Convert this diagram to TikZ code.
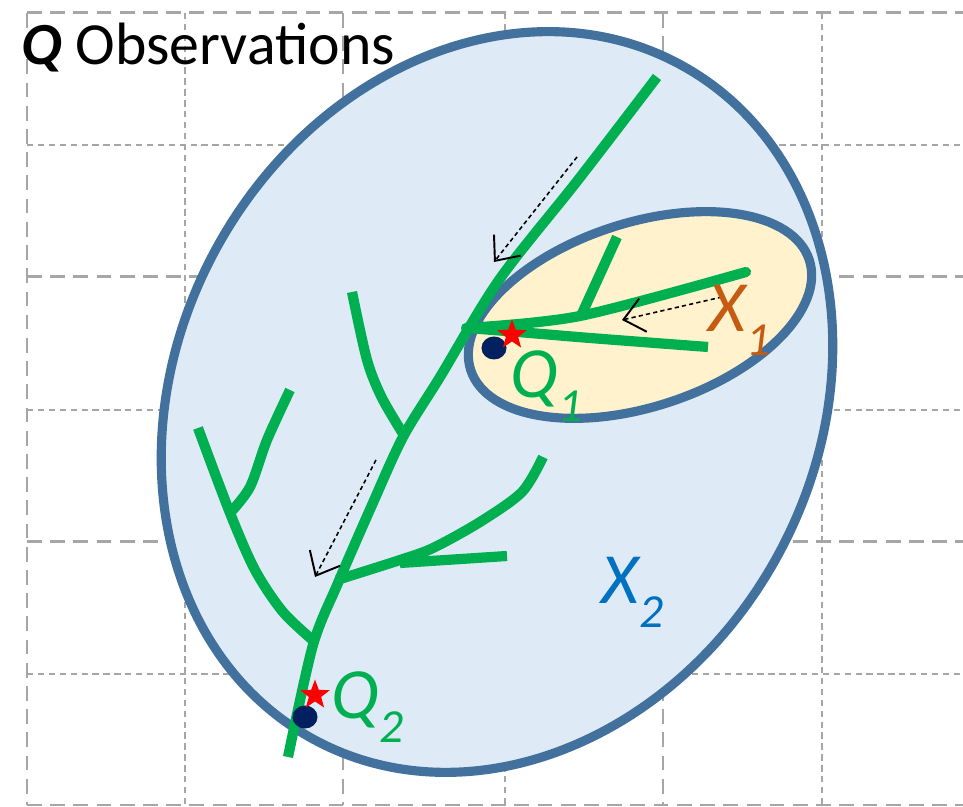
\documentclass[tikz,border=0pt]{standalone}
\usepackage{fontspec}
\setmainfont{Carlito}
\usetikzlibrary{arrows.meta,shapes.geometric}

\definecolor{rimblue}{HTML}{41719C}
\definecolor{bigfill}{HTML}{DEEBF7}
\definecolor{smallfill}{HTML}{FFF2CC}
\definecolor{treegreen}{HTML}{00B050}
\definecolor{dotnavy}{HTML}{002060}
\definecolor{xorange}{HTML}{C55A11}
\definecolor{xblue}{HTML}{0070C0}
\definecolor{gridgray}{HTML}{A6A6A6}

\newcommand{\varsub}[2]{\textit{#1\raisebox{-0.32em}{\fontsize{13.5}{13.5}\selectfont #2}}}

\begin{document}
\begin{tikzpicture}[x=0.01cm,y=-0.01cm,
    gridthick/.style={gridgray,line width=0.85pt,dash pattern=on 4.2pt off 2.4pt},
    gridthin/.style={gridgray,line width=0.45pt,dash pattern=on 1.8pt off 1.3pt},
    region/.style={draw=rimblue,line width=2.6pt},
    branch/.style={treegreen,line width=2.9pt},
    flow/.style={black,line width=0.45pt,dash pattern=on 1.2pt off 0.9pt,
      -{Straight Barb[length=0.2cm,width=0.34cm,line width=0.55pt]}},
    obsstar/.style={star,star points=5,star point ratio=2.4,minimum size=0.31cm,
      inner sep=0pt,fill=red},
    obsdot/.style={ellipse,fill=dotnavy,minimum width=0.25cm,minimum height=0.23cm,
      inner sep=0pt},
    lbl/.style={anchor=base west,inner sep=0pt,font=\fontsize{20.5}{24}\selectfont}]
  \useasboundingbox (0,0) rectangle (963,807);

  % background grid
  \foreach \y in {13,277,542,805}
    \draw[gridthick] (27,\y) -- (963,\y);
  \foreach \y in {145,410,674}
    \draw[gridthin] (27,\y) -- (963,\y);
  \foreach \x in {27,343,663}
    \draw[gridthick] (\x,13) -- (\x,805);
  \foreach \x in {185,505,822}
    \draw[gridthin] (\x,13) -- (\x,805);

  % regions
  \draw[region,fill=bigfill,rotate around={61.4:(497,402)}] (497,402) ellipse [x radius=384,y radius=320];
  \draw[region,fill=smallfill,rotate around={18:(640,315)}] (640,315) ellipse [x radius=178,y radius=92];

  % tree
  \draw[branch] plot[smooth,tension=0.5] coordinates {(657,77) (578,180) (499,280) (440,377) (403,437) (372,505) (338,583) (313,645) (288,757)};
  \draw[branch,line cap=round] plot[smooth,tension=0.5] coordinates {(466,328) (580,316) (746,272)};
  \draw[branch] plot[smooth,tension=0.5] coordinates {(468,328) (530,333) (590,338) (708,347)};
  \draw[branch] (617,237) -- (580,318);
  \draw[branch] plot[smooth,tension=0.5] coordinates {(352,292) (367,360) (382,398) (405,437)};
  \draw[branch] plot[smooth,tension=0.5] coordinates {(198,428) (230,513) (255,570) (283,612) (316,643)};
  \draw[branch] plot[smooth,tension=0.5] coordinates {(290,390) (267,440) (250,487) (230,513)};
  \draw[branch] plot[smooth,tension=0.5] coordinates {(543,457) (522,492) (480,522) (433,548) (400,560) (337,580)};
  \draw[branch] (507,556) -- (400,563);

  % flow directions
  \coordinate (f1s) at (577,157);
  \coordinate (f1e) at (494,262);
  \coordinate (f2s) at (376,460);
  \coordinate (f2e) at (315,577);
  \coordinate (f3s) at (722,297);
  \coordinate (f3e) at (622,320);
  \draw[flow] (f1s) -- (f1e);
  \draw[flow] (f2s) -- (f2e);
  \draw[flow] (f3s) -- (f3e);

  % observation points
  \node[obsdot] (d1) at (494,348) {};
  \node[obsstar] (s1) at (512,335) {};
  \node[obsdot] (d2) at (305,717) {};
  \node[obsstar] (s2) at (315,695) {};

  % labels
  \node[anchor=base west,inner sep=0pt,font=\fontsize{17}{20}\selectfont] (title) at (21,65)
    {\textbf{\textit{Q}} Observations};
  \node[lbl,text=treegreen] (q1) at (510,398) {\varsub{Q}{1}};
  \node[lbl,text=treegreen] (q2) at (331,719) {\varsub{Q}{2}};
  \node[lbl,text=xorange] (x1) at (708,332) {\varsub{X}{1}};
  \node[lbl,text=xblue] (x2) at (601,604) {\varsub{X}{2}};
\end{tikzpicture}
\end{document}
